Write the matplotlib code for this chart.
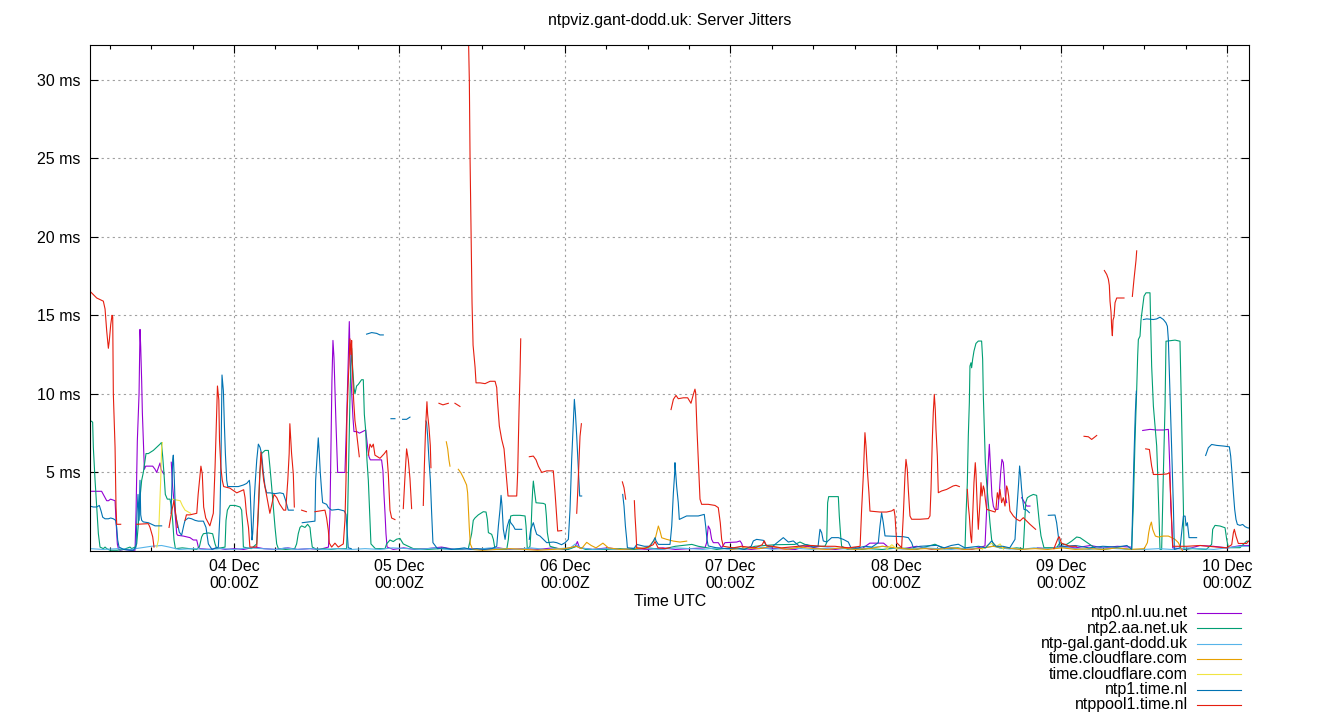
import datetime as dt
import numpy as np
import matplotlib
matplotlib.use('Agg')
import matplotlib.pyplot as plt
import matplotlib.dates as mdates
from matplotlib.lines import Line2D

# (hours after 03 Dec 00:00 UTC, jitter in ms), None = gap in the line
ntp0_nl_uu = [(3.16,3.8),(4.8,3.8),(5.05,3.6),(5.54,3.2),(5.8,3.2),(6.1,3.3),(6.75,3.2),(6.89,1.95),(7.08,0.45),(7.23,0.15),(7.47,0.05),(8.0,0.1),(9.0,0.05),(9.65,0.05),(9.79,2.4),(9.98,7.0),(10.23,10.0),(10.37,14.1),(10.47,13.0),(10.61,10.8),(10.71,8.8),(10.85,7.0),(11.0,5.2),(11.19,5.4),(11.82,5.4),(12.21,5.4),(12.55,5.2),(12.79,5.0),(13.03,5.3),(13.27,5.6),(13.42,5.2),(13.66,5.0),(13.85,4.9),None,
    (14.9,5.65),(15.1,4.1),(15.45,2.4),(15.69,1.1),(15.83,1.0),(16.65,0.95),(17.62,0.85),(18.1,0.7),(18.59,0.7),(18.83,0.25),(19.07,0.15),(20.5,0.1),(21.6,0.2),(22.7,0.1),(24.1,0.15),(25.4,0.1),(27.1,0.25),(28.3,0.15),(30.0,0.1),(31.8,0.2),(33.2,0.1),(35.0,0.15),(36.4,0.1),(37.7,0.25),(37.92,2.4),(38.06,6.6),(38.2,10.8),(38.35,13.4),(38.5,12.3),(38.64,10.2),(38.79,8.1),(38.93,6.2),(39.03,5.0),(40.09,5.0),(40.33,8.3),(40.48,10.8),(40.62,13.0),(40.72,14.6),(40.86,11.9),(41.06,10.2),(41.25,8.5),(41.4,7.6),(41.8,7.6),(42.2,7.5),(43.1,7.7),(43.38,6.6),(43.57,6.0),(43.77,5.8),(45.4,5.8),(45.6,5.1),(45.75,3.6),(45.9,2.4),(46.04,1.1),(46.2,0.25),(47.1,0.1),(48.6,0.2),(50.2,0.1),(52.0,0.15),(54.1,0.25),(56.0,0.1),(58.2,0.15),(60.1,0.1),(62.3,0.2),(64.0,0.1),(66.2,0.15),(68.1,0.1),(70.3,0.2),(72.2,0.1),(73.5,0.3),(73.8,0.6),(74.1,0.2),(76.0,0.1),(78.2,0.2),(80.1,0.1),(82.3,0.15),(84.0,0.1),(86.2,0.2),(88.0,0.1),(90.1,0.15),(92.3,0.2),(92.54,0.53),(92.78,1.59),(93.03,1.38),(93.27,0.74),(93.51,0.53),(94.23,0.53),(94.7,0.2),(95.2,0.53),(96.9,0.57),(97.38,0.64),(97.62,0.49),(97.86,0.15),(99.0,0.1),(101.1,0.2),(103.0,0.15),(105.4,0.1),(107.1,0.3),(109.0,0.15),(111.2,0.1),(113.0,0.2),(115.1,0.15),(116.2,0.5),(118.2,0.5),(119.0,0.2),(121.1,0.15),(123.0,0.3),(125.2,0.1),(127.0,0.2),(129.1,0.15),(131.0,0.1),(132.91,0.32),(133.15,2.65),(133.39,5.62),(133.54,6.79),(133.73,5.2),(133.92,3.5),(134.12,2.86),(134.31,2.65),(134.79,2.65),(134.99,3.71),(135.18,4.98),(135.37,5.83),(135.57,5.62),(135.71,4.77),(135.86,3.5),(136.05,3.08),None,
    (138.23,3.39),(138.95,2.86),(139.43,2.86),None,
    (140.5,0.2),(142.0,0.15),(144.1,0.3),(146.0,0.2),(148.2,0.35),(150.0,0.2),(152.1,0.3),(154.0,0.25),None,
    (155.78,7.67),(156.84,7.74),(157.81,7.7),(158.78,7.7),(159.5,7.74),(159.6,6.68),(159.74,4.98),(159.84,2.86),(159.98,1.8),(160.13,0.2),(162.0,0.1),(164.1,0.35),(166.0,0.3),(168.1,0.2),(170.0,0.35),(171.3,0.35)]

ntp2_aa = [(3.16,8.3),(3.5,8.2),(3.6,6.6),(3.85,4.5),(4.09,2.8),(4.33,1.1),(4.57,0.25),(5.05,0.15),(5.3,0.25),(5.54,0.15),(6.0,0.05),(7.0,0.05),(8.0,0.1),(8.92,0.25),(9.16,0.15),(9.65,0.25),(9.89,0.45),(10.13,1.7),(10.37,3.4),(10.61,4.5),(10.85,5.0),(11.1,5.8),(11.24,6.2),(11.58,6.2),(12.3,6.4),(12.79,6.6),(13.27,6.8),(13.47,6.9),(13.66,6.0),(13.85,4.9),(14.04,3.6),(14.33,3.3),(14.72,3.3),(14.92,2.8),(15.11,1.9),(15.3,0.7),(15.5,0.15),(16.5,0.2),(17.6,0.15),(18.6,0.1),(19.0,0.3),(19.31,0.9),(19.56,1.1),(20.28,1.15),(20.9,1.1),(21.25,0.45),(21.5,0.15),(22.7,0.25),(22.84,1.95),(23.04,2.6),(23.42,2.9),(24.15,2.9),(24.87,2.8),(25.11,2.6),(25.26,1.5),(25.36,0.25),(26.5,0.15),(27.29,0.45),(27.53,2.4),(27.77,5.1),(28.0,6.2),(28.5,6.4),(28.98,6.4),(29.22,5.3),(29.46,4.1),(29.7,2.8),(29.95,1.5),(30.19,0.45),(30.43,0.15),(31.5,0.1),(32.8,0.15),(33.08,0.45),(33.32,1.1),(33.57,1.5),(33.81,1.6),(34.29,1.5),(34.68,1.7),(35.02,1.5),(35.16,0.9),(35.35,0.25),(36.0,0.1),(37.0,0.15),(38.0,0.1),(39.0,0.15),(40.33,0.15),(40.48,2.4),(40.67,6.6),(40.86,10.6),(41.06,12.9),(41.2,11.7),(41.4,10.4),(41.54,10.0),(41.78,10.5),(42.02,10.6),(42.5,10.9),(42.75,10.9),(42.9,8.7),(43.09,7.7),(43.28,5.8),(43.48,4.5),(43.67,2.4),(43.86,0.45),(44.5,0.15),(45.9,0.15),(46.13,0.45),(46.62,0.7),(47.1,0.6),(47.58,0.75),(48.07,0.8),(48.55,0.45),(49.28,0.3),(50.0,0.15),(52.0,0.1),(54.0,0.15),(56.0,0.1),(57.98,0.15),(58.46,1.1),(58.7,1.95),(58.94,2.1),(59.43,2.3),(60.15,2.5),(60.55,2.48),(60.74,2.0),(60.89,1.17),(61.37,1.06),(61.61,0.74),(61.86,0.1),(62.5,0.1),(63.55,0.1),(63.79,0.74),(63.93,1.59),(64.13,2.23),(64.51,2.27),(65.48,2.27),(66.21,2.23),(66.35,1.59),(66.45,0.74),(66.54,0.1),(66.93,0.3),(67.08,1.38),(67.22,3.07),(67.32,3.92),(67.41,4.45),(67.61,3.71),(67.8,3.07),(68.86,3.03),(69.15,2.97),(69.3,2.23),(69.44,1.17),(69.64,0.64),(69.83,0.3),(71.0,0.15),(72.5,0.1),(73.7,0.3),(75.0,0.1),(78.0,0.1),(80.0,0.15),(82.0,0.1),(84.0,0.2),(86.0,0.1),(88.0,0.3),(90.4,0.42),(91.33,0.3),(94.0,0.1),(96.0,0.2),(98.0,0.1),(99.55,0.3),(102.45,0.4),(105.35,0.42),(106.08,0.57),(106.8,0.42),(108.25,0.3),(109.7,0.3),(109.95,0.53),(110.09,3.07),(110.24,3.46),(111.64,3.46),(111.78,2.23),(111.98,0.95),(112.12,0.3),(113.0,0.1),(114.0,0.15),(115.0,0.1),(116.0,0.15),(118.0,0.1),(120.5,0.2),(123.0,0.1),(125.65,0.43),(127.0,0.15),(129.0,0.2),(130.01,0.1),(130.15,2.23),(130.35,4.35),(130.49,7.32),(130.64,9.44),(130.73,11.77),(130.88,11.98),(130.97,11.66),(131.12,12.2),(131.31,12.72),(131.6,13.21),(131.94,13.36),(132.42,13.36),(132.57,12.2),(132.67,9.86),(132.81,7.74),(132.96,5.62),(133.15,4.35),(133.39,3.08),(133.63,1.8),(133.87,0.74),(134.12,0.36),(135.0,0.2),(136.5,0.15),(137.5,0.2),(138.47,0.15),(138.61,1.38),(138.81,3.08),(139.05,3.39),(139.43,3.5),(139.92,3.6),(140.4,3.54),(140.55,2.86),(140.79,1.8),(141.03,0.96),(141.27,0.53),(141.46,0.21),(143.3,0.21),(143.78,0.53),(144.27,0.42),(144.76,0.42),(145.48,0.63),(146.21,0.89),(146.69,0.85),(147.42,0.63),(148.14,0.42),(149.0,0.15),(150.0,0.1),(152.0,0.2),(154.0,0.1),(154.18,0.1),(154.42,2.86),(154.67,7.1),(154.91,10.28),(155.05,12.4),(155.15,13.46),(155.39,13.67),(155.54,14.73),(155.73,15.37),(155.97,16.22),(156.26,16.43),(156.84,16.43),(156.94,14.52),(157.08,11.76),(157.33,9.22),(157.57,7.95),(157.81,6.68),(157.95,4.98),(158.1,2.86),(158.29,0.1),(158.53,0.1),(158.78,4.98),(159.02,9.22),(159.16,13.35),(160.47,13.42),(161.19,13.35),(161.29,11.34),(161.39,9.22),(161.48,7.1),(161.58,4.98),(161.68,2.86),(161.77,0.1),(163.0,0.15),(165.0,0.1),(165.78,0.42),(165.93,1.38),(166.27,1.63),(166.99,1.59),(167.72,1.48),(167.96,0.74),(168.2,0.21),(169.89,0.21),(170.62,0.53),(170.86,0.63),(171.3,0.6)]

ntp_gal = [(3.16,0.15),(5.0,0.1),(7.1,0.15),(8.9,0.1),(10.5,0.2),(12.0,0.3),(13.5,0.35),(14.6,0.25),(16.0,0.1),(18.1,0.15),(20.0,0.1),(22.2,0.15),(24.0,0.1),(26.1,0.2),(28.0,0.15),(30.2,0.1),(31.5,0.2),(33.1,0.1),(35.0,0.15),(37.2,0.1),(39.0,0.15),(41.1,0.1),(43.0,0.15),(45.2,0.1),(47.0,0.2),(49.1,0.15),(51.0,0.1),(53.2,0.2),(55.0,0.1),(57.1,0.15),(59.0,0.1),(61.2,0.2),(63.0,0.15),(65.1,0.1),(67.0,0.2),(69.2,0.1),(71.0,0.15),(72.8,0.2),(73.5,0.45),(74.2,0.2),(76.0,0.1),(78.1,0.15),(80.0,0.1),(82.2,0.2),(84.0,0.15),(86.1,0.1),(88.0,0.2),(90.2,0.15),(92.0,0.1),(94.1,0.2),(96.0,0.1),(98.2,0.15),(100.0,0.25),(102.1,0.1),(104.0,0.2),(106.2,0.15),(108.0,0.1),(110.1,0.2),(112.0,0.15),(114.2,0.1),(116.0,0.2),(118.1,0.3),(120.0,0.15),(122.2,0.1),(124.0,0.2),(126.1,0.15),(128.0,0.1),(130.2,0.2),(132.0,0.15),(134.1,0.3),(136.0,0.15),(138.2,0.1),(140.0,0.2),(142.1,0.15),(144.0,0.25),(146.2,0.15),(148.0,0.1),(150.1,0.2),(152.0,0.15),(154.2,0.1),(156.0,0.1),(158.1,0.15),(160.0,0.1),(162.2,0.2),(164.0,0.15),(166.1,0.1),(168.0,0.2),(170.0,0.3),(171.3,0.3)]

cloudflare_a = [(54.79,6.95),(54.99,6.5),(55.17,5.8),(55.32,5.4),None,
    (56.53,5.2),(56.91,4.97),(57.25,4.67),(57.73,4.2),(57.88,3.7),(57.98,2.8),(58.12,1.5),(58.27,0.45),(58.6,0.1),(60.0,0.05),(62.1,0.1),(64.0,0.15),(66.2,0.1),(68.0,0.05),(70.1,0.1),(72.0,0.15),(73.6,0.3),(74.4,0.15),(75.15,0.55),(75.8,0.35),(76.5,0.2),(77.5,0.5),(78.3,0.2),(80.0,0.1),(82.1,0.15),(84.0,0.2),(85.06,0.74),(85.3,1.16),(85.54,1.59),(85.78,1.27),(86.03,0.84),(86.75,0.74),(87.72,0.63),(88.68,0.57),(89.65,0.63),None,
    (96.0,0.1),(98.0,0.2),(100.2,0.15),(102.0,0.3),(104.1,0.1),(106.0,0.25),(108.2,0.15),(110.0,0.1),(112.1,0.2),(114.0,0.1),(116.2,0.15),(118.0,0.3),(120.1,0.2),(122.0,0.1),(124.2,0.15),(126.0,0.1),(128.1,0.2),(130.0,0.1),(132.2,0.15),(134.0,0.3),(136.1,0.2),(138.0,0.1),(140.2,0.15),(142.0,0.1),(144.1,0.2),(146.0,0.1),(148.2,0.15),(150.0,0.1),(152.1,0.2),(154.0,0.1),(156.0,0.15),(156.46,0.53),(156.65,1.16),(156.84,1.59),(157.04,1.84),(157.23,1.38),(157.42,1.16),(157.62,0.95),(158.05,0.89),(158.78,0.95),(159.5,0.95),(159.98,0.85),(160.47,0.74),(160.95,0.53),(161.29,0.21),(161.58,0.0)]

cloudflare_b = [(12.8,0.25),(13.04,0.7),(13.18,2.4),(13.37,4.5),(13.51,6.6),(13.61,6.9),None,
    (15.0,3.3),(15.6,3.25),(16.2,3.2),(16.5,2.9),(16.9,2.6),(17.7,2.4),None,
    (118.6,0.1),(119.4,0.4),(120.2,0.1),None,
    (132.5,0.1),(133.4,0.4),(134.0,0.5),(134.6,0.3),(135.1,0.45),(135.6,0.1)]

ntp1_time = [(3.16,2.85),(3.6,2.8),(4.09,2.8),(4.47,2.9),(4.72,2.55),(4.96,2.15),(5.3,2.05),(5.78,2.05),(6.12,2.1),(6.5,2.05),(6.84,1.95),(6.99,1.5),(7.13,0.7),(7.33,0.25),(8.0,0.1),(9.0,0.05),(9.4,0.05),(9.79,0.25),(9.94,2.4),(10.08,3.6),(10.23,1.95),(10.37,4.5),(10.47,2.3),(10.61,1.95),(10.85,1.85),(11.58,1.8),(12.06,1.7),(12.55,1.6),(13.51,1.6),None,
    (14.87,2.4),(15.01,4.5),(15.11,5.8),(15.2,6.1),(15.35,4.5),(15.5,2.4),(15.69,1.95),(16.07,1.2),(16.4,1.0),(16.75,1.7),(16.9,1.95),(17.38,2.1),(17.86,2.05),(18.35,1.95),(18.83,1.9),(19.56,1.9),(19.94,1.5),(20.28,0.45),(20.8,0.1),(21.73,0.25),(21.97,2.4),(22.12,6.0),(22.26,11.2),(22.46,10.2),(22.6,8.1),(22.75,6.2),(22.94,4.5),(23.09,4.1),(23.9,4.1),(24.63,4.1),(25.36,4.2),(25.84,4.3),(26.23,4.5),(26.32,4.1),(26.47,2.4),(26.61,0.7),(26.71,1.1),(26.81,1.95),(26.95,3.4),(27.1,4.5),(27.3,5.8),(27.53,6.8),(27.77,6.6),(28.0,6.2),(28.26,4.95),(28.5,4.1),(28.74,3.7),(29.22,3.7),(29.95,3.65),(30.67,3.7),(31.16,3.65),(31.5,3.2),(31.87,2.6),(32.6,2.6),None,
    (33.9,1.8),(35.74,1.9),(35.84,4.5),(36.03,5.8),(36.22,7.2),(36.37,6.2),(36.51,5.0),(36.71,3.8),(36.85,3.08),(37.43,2.97),(37.68,2.76),(38.16,2.6),(39.12,2.65),(39.99,2.55),(40.24,2.33),(40.38,1.38),(40.57,0.2),(41.0,0.15),None,
    (43.23,13.8),(43.96,13.9),(44.68,13.85),(45.17,13.75),(45.65,13.75),None,
    (46.76,8.42),(47.34,8.42),None,
    (48.45,8.38),(49.03,8.38),(49.52,8.52),None,
    (51.84,8.27),(51.93,8.16),(52.08,7.32),(52.27,5.83),(52.47,4.56),(52.66,2.44),(52.85,0.53),(53.5,0.15),(54.5,0.2),(55.5,0.1),(56.6,0.15),(57.4,0.2),(58.3,0.1),(59.2,0.15),(60.3,0.1),(61.4,0.15),(62.1,0.3),(62.34,1.59),(62.58,2.65),(62.73,3.54),(62.87,2.86),(63.06,1.38),(63.31,0.74),(63.45,1.17),(63.64,1.59),(63.93,2.01),(64.13,1.8),(64.51,1.59),(64.76,1.38),(65.72,1.38),None,
    (66.83,0.74),(67.03,1.38),(67.41,1.8),(67.66,1.38),(67.9,1.06),(68.38,0.95),(68.86,0.74),(69.35,0.53),(70.31,0.57),(70.8,0.53),(71.5,0.4),(72.01,0.53),(72.49,0.74),(72.73,2.65),(72.97,5.83),(73.22,8.37),(73.36,9.65),(73.51,8.8),(73.7,7.31),(73.84,6.04),(73.99,4.77),(74.13,3.5),(74.42,3.5),None,
    (80.37,3.6),(80.56,2.86),(80.76,1.59),(80.95,0.74),(81.05,0.21),(82.0,0.15),(82.4,0.42),(83.5,0.3),(84.33,0.3),(84.82,0.64),(85.06,0.85),(85.2,0.64),(85.54,0.42),(87.23,0.42),(87.48,1.59),(87.72,3.71),(87.91,4.98),(87.95,5.62),(88.19,4.13),(88.43,3.07),(88.58,2.01),(89.64,2.23),(91.33,2.23),(92.2,2.33),(92.4,1.59),(92.59,0.74),(92.78,0.32),(94.0,0.2),(95.5,0.15),(97.0,0.2),(98.0,0.1),(99.0,0.3),(99.31,0.64),(99.79,0.74),(100.76,0.68),(101.24,0.32),(102.0,0.25),(102.45,0.42),(103.66,0.85),(104.39,0.57),(105.11,0.64),(106.0,0.3),(107.0,0.4),(108.0,0.25),(108.7,0.3),(108.98,1.38),(109.22,1.17),(109.46,0.64),(109.95,0.57),(110.67,0.85),(111.64,0.85),(112.36,0.74),(113.09,0.57),(113.47,0.21),(114.5,0.2),(115.5,0.3),(116.5,0.25),(117.44,0.53),(117.68,1.59),(117.92,2.44),(118.16,1.8),(118.41,0.96),(121.06,0.91),(121.79,0.85),(122.27,0.53),(122.51,0.21),(123.5,0.3),(125.9,0.36),(127.0,0.2),(128.0,0.35),(129.04,0.43),(130.0,0.2),(131.0,0.25),(132.0,0.3),(133.0,0.2),(133.87,0.64),(134.5,0.3),(135.5,0.3),(136.5,0.2),(137.26,0.74),(137.4,1.8),(137.6,3.08),(137.79,4.35),(137.93,5.41),(138.08,4.77),(138.22,3.92),(138.37,3.29),(138.56,2.65),(138.95,2.61),(139.34,2.44),None,
    (142.09,2.27),(143.06,2.29),(143.3,1.8),(143.54,0.96),(143.78,0.32),(144.5,0.3),(146.0,0.35),(148.0,0.2),(150.0,0.3),(152.0,0.25),(153.5,0.35),(154.18,0.1),(154.33,2.86),(154.52,6.04),(154.71,8.8),(154.86,10.17),None,
    (155.88,14.73),(156.36,14.77),(157.33,14.73),(157.81,14.77),(158.29,14.88),(158.78,14.73),(159.16,14.52),(159.36,14.3),(159.5,13.46),(159.65,11.34),(159.79,9.22),(159.94,7.1),(160.08,4.98),(160.23,2.86),(160.37,0.1),(161.2,0.2),(161.5,1.5),(161.68,2.22),(161.93,2.22),(162.07,1.6),(162.26,1.8),(162.5,0.85),(163.6,0.85),None,
    (164.91,6.08),(165.3,6.57),(165.78,6.78),(166.51,6.72),(167.48,6.68),(168.35,6.63),(168.54,6.04),(168.73,4.98),(168.93,3.71),(169.12,2.65),(169.31,2.01),(169.51,1.69),(169.89,1.63),(170.28,1.69),(170.62,1.55),(170.96,1.48),(171.3,1.45)]

ntppool1_time = [(3.18,16.5),(4.09,16.1),(5.05,15.9),(5.3,15.4),(5.54,14.0),(5.78,12.9),(5.92,13.4),(6.12,14.4),(6.31,15.0),(6.41,14.9),(6.5,10.0),(6.75,6.6),(6.89,2.8),(6.99,1.7),(7.57,1.7),None,
    (9.89,1.7),(11.58,1.74),(11.82,1.5),(12.21,0.9),(12.4,0.25),None,
    (14.58,1.5),(15.0,2.6),(15.3,3.2),(15.6,2.2),(15.8,1.5),None,
    (16.9,1.95),(17.1,2.3),(17.6,2.3),(18.6,2.4),(18.8,3.6),(19.2,5.4),(19.4,4.9),(19.6,2.8),(19.9,2.1),(20.5,1.6),(21.0,2.4),(21.25,5.3),(21.4,7.5),(21.6,10.5),(21.8,9.6),(21.9,7.0),(22.1,5.3),(22.3,4.5),(22.5,4.1),(23.4,4.0),(24.4,3.7),(25.4,3.9),(25.6,3.4),(25.8,2.4),(26.1,1.5),(26.3,0.25),(27.3,0.25),(27.4,1.5),(27.7,4.5),(27.9,6.3),(28.1,5.3),(28.3,4.5),(28.7,3.6),(29.2,2.4),(29.6,3.2),(29.8,3.6),(30.2,3.4),(30.6,3.0),(31.2,2.6),(31.5,2.6),(31.8,4.5),(32.0,6.2),(32.1,8.1),(32.35,6.2),(32.6,4.9),(32.75,2.8),None,
    (33.8,2.6),(34.5,2.5),None,
    (35.74,2.5),(37.19,2.6),(37.43,2.1),(37.68,1.3),(37.82,0.5),(38.16,0.25),(38.64,0.5),(39.12,0.25),(39.85,0.45),(40.09,1.95),(40.24,4.5),(40.38,8.5),(40.57,10.8),(40.82,13.5),(40.96,12.5),(41.06,13.4),(41.2,11.3),(41.35,9.6),(41.54,8.3),(41.78,7.5),(42.02,6.6),(42.17,6.0),None,
    (43.48,6.1),(43.72,6.8),(43.96,6.6),(44.2,6.8),(44.44,6.1),(45.17,5.9),(45.8,6.2),(46.13,6.4),(46.38,4.9),(46.62,2.6),(46.86,2.1),(47.34,2.0),None,
    (48.55,2.7),(48.79,4.7),(49.03,6.5),(49.28,5.8),(49.52,4.6),(49.76,2.7),None,
    (51.45,2.9),(51.6,5.3),(51.79,7.9),(51.98,9.5),(52.08,8.7),(52.27,7.9),(52.47,6.7),(52.56,5.3),None,
    (53.72,9.4),(54.3,9.3),(55.08,9.4),None,
    (56.04,9.4),(56.77,9.2),None,
    (57.99,33.0),(58.13,29.9),(58.23,25.1),(58.38,20.5),(58.52,15.8),(58.67,13.1),(58.81,12.4),(58.96,11.7),(59.1,10.7),(59.68,10.7),(60.41,10.65),(61.13,10.8),(61.86,10.8),(62.1,10.4),(62.19,9.65),(62.48,7.95),(62.82,7.1),(63.16,6.5),(63.45,5.0),(63.74,3.5),(65.0,3.5),(65.14,5.0),(65.34,9.0),(65.48,11.3),(65.58,13.5),None,
    (66.83,6.0),(67.41,6.04),(67.8,5.8),(68.14,5.4),(68.62,5.0),(69.35,5.1),(70.31,5.1),(70.56,3.7),(70.8,2.2),(70.94,1.27),(71.52,1.3),None,
    (73.7,2.4),(73.84,3.7),(74.04,5.8),(74.18,7.3),(74.38,8.1),None,
    (80.32,4.4),(80.56,4.03),(80.8,3.3),None,
    (82.06,3.2),(82.16,2.2),(82.3,1.17),(82.4,0.2),(83.5,0.15),(84.8,0.4),(85.06,0.6),(85.5,0.2),(86.5,0.15),(87.2,0.2),None,
    (87.38,9.0),(87.72,9.65),(88.1,9.9),(88.43,9.69),(89.16,9.75),(89.79,9.75),(90.27,9.4),(90.61,9.96),(90.85,10.3),(90.95,10.07),(91.14,7.74),(91.33,5.8),(91.58,3.3),(91.82,2.97),(92.78,2.97),(93.75,2.9),(94.23,2.76),(94.52,1.8),(94.72,0.74),(94.96,0.3),(96.4,0.2),(97.6,0.3),(99.55,0.2),(100.6,0.4),(100.9,0.65),(101.2,0.35),(103.4,0.2),(105.8,0.3),(107.8,0.35),(109.2,0.3),(111.15,0.3),(113.1,0.2),(114.8,0.3),(115.02,2.65),(115.26,4.77),(115.5,7.53),(115.65,6.7),(115.84,5.2),(116.08,3.7),(116.23,2.54),(117.68,2.48),(118.65,2.48),(119.37,2.55),(119.71,2.65),(119.86,2.23),(120.1,0.53),(120.82,0.21),(121.06,2.23),(121.3,4.77),(121.45,5.83),(121.64,5.2),(121.79,3.92),(122.03,2.23),(122.27,2.02),(123.48,2.02),(124.69,2.06),(124.93,2.23),(125.08,3.92),(125.27,7.1),(125.41,8.8),(125.56,9.97),(125.7,9.0),(125.8,7.74),(126.0,6.04),(126.14,3.71),(126.62,3.82),(127.35,3.92),(128.3,4.14),(128.7,4.18),(129.19,4.1),None,
    (130.35,3.92),(130.5,2.86),(130.64,2.23),(130.83,0.96),(130.97,0.53),(131.12,2.23),(131.31,4.35),(131.5,5.62),(131.6,4.98),(131.8,2.65),(131.94,1.38),(132.18,3.08),(132.33,4.35),(132.47,3.5),(132.67,4.14),(132.81,3.92),(132.96,3.29),(133.15,2.65),(134.36,2.48),(134.5,2.65),(134.7,3.71),(134.89,3.29),(135.08,3.92),(135.32,3.08),(135.57,3.39),(135.81,2.86),(136.05,4.14),(136.2,3.92),(136.34,3.5),(136.53,2.55),(137.02,2.23),(137.5,2.02),(137.98,1.91),(138.47,2.12),(138.95,1.91),(139.43,1.7),(140.25,1.38),None,
    (142.9,0.15),(143.54,0.85),(143.69,0.9),(144.0,0.5),(145.2,0.3),(146.2,0.3),None,
    (147.27,7.3),(147.9,7.27),(148.38,7.1),(149.11,7.35),None,
    (150.22,17.85),(150.56,17.6),(150.8,17.3),(150.94,16.9),(151.04,15.9),(151.19,15.2),(151.28,14.2),(151.38,13.7),(151.48,14.7),(151.62,14.9),(151.77,15.8),(152.01,16.1),(153.07,16.1),None,
    (154.28,16.2),(154.52,17.3),(154.67,17.9),(154.81,18.5),(154.91,19.1),None,
    (156.21,6.5),(156.75,6.46),(156.94,5.83),(157.08,5.4),(157.33,4.87),(158.29,4.87),(159.26,4.9),(159.65,4.98),(159.74,4.35),(159.89,3.07),(159.98,1.9),(160.13,0.3),(162.16,0.3),(164.1,0.35),(166.03,0.27),(167.96,0.2),(168.69,0.4),(168.93,1.16),(169.07,1.38),(169.31,0.95),(169.65,0.48),(170.86,0.48),(171.1,0.63),(171.3,0.6)]

series = [ntp0_nl_uu, ntp2_aa, ntp_gal, cloudflare_a, cloudflare_b, ntp1_time, ntppool1_time]
series_names = ['ntp0.nl.uu.net', 'ntp2.aa.net.uk', 'ntp-gal.gant-dodd.uk', 'time.cloudflare.com',
                'time.cloudflare.com', 'ntp1.time.nl', 'ntppool1.time.nl']
series_colors = ['#9400d3', '#009e73', '#56b4e9', '#e69f00', '#f0e442', '#0072b2', '#e51e10']

day_hours = [24, 48, 72, 96, 120, 144, 168]
day_labels = ['04 Dec\n00:00Z', '05 Dec\n00:00Z', '06 Dec\n00:00Z', '07 Dec\n00:00Z',
              '08 Dec\n00:00Z', '09 Dec\n00:00Z', '10 Dec\n00:00Z']
ms_ticks = [5, 10, 15, 20, 25, 30]
ms_labels = ['5 ms', '10 ms', '15 ms', '20 ms', '25 ms', '30 ms']

plt.rcParams['font.family'] = ['Liberation Sans', 'DejaVu Sans']
plt.rcParams['font.size'] = 11.5

base = mdates.date2num(dt.datetime(2023, 12, 3))
W, H = 1340, 720

fig = plt.figure(figsize=(W/100, H/100), dpi=100)
ax = fig.add_axes([90.3/W, 1 - 551/H, (1249.3 - 90.3)/W, (551 - 45)/H])

for pts, col in zip(series, series_colors):
    t = np.array([np.nan if p is None else p[0] for p in pts])
    v = np.array([np.nan if p is None else p[1] for p in pts])
    ax.plot(base + t/24, v, color=col, lw=0.8)

ax.set_xlim(base + 3.16/24, base + 171.24/24)
ax.set_ylim(0, 32.2)

ax.set_xticks(base + np.array(day_hours)/24)
ax.set_xticklabels(day_labels, linespacing=1.1)
minor_hours = [h for h in range(6, 172, 6) if h % 24]
ax.set_xticks(base + np.array(minor_hours)/24, minor=True)
ax.set_yticks(ms_ticks)
ax.set_yticklabels(ms_labels)

ax.tick_params(which='both', direction='in', top=True, right=True, color='black', width=0.8)
ax.tick_params(which='major', length=6)
ax.tick_params(which='minor', length=3)
ax.tick_params(axis='x', pad=6)
ax.tick_params(axis='y', pad=7)
ax.grid(True, which='major', color='#a0a0a0', linestyle=(0, (2, 3)), lw=0.8)
for s in ax.spines.values():
    s.set_linewidth(0.8)

fig.text(670/W, 1 - 21/H, 'ntpviz.gant-dodd.uk: Server Jitters', ha='center', va='center')
fig.text(670/W, 1 - 602/H, 'Time UTC', ha='center', va='center')

# key below the plot, text right aligned with a line sample after it
for i, (name, col) in enumerate(zip(series_names, series_colors)):
    yk = 1 - (613 + 15.3*i)/H
    fig.text(1188/W, yk, name, ha='right', va='center')
    fig.add_artist(Line2D([1197/W, 1241/W], [yk, yk], color=col, lw=0.8, transform=fig.transFigure))

fig.savefig('out.png', dpi=100)
